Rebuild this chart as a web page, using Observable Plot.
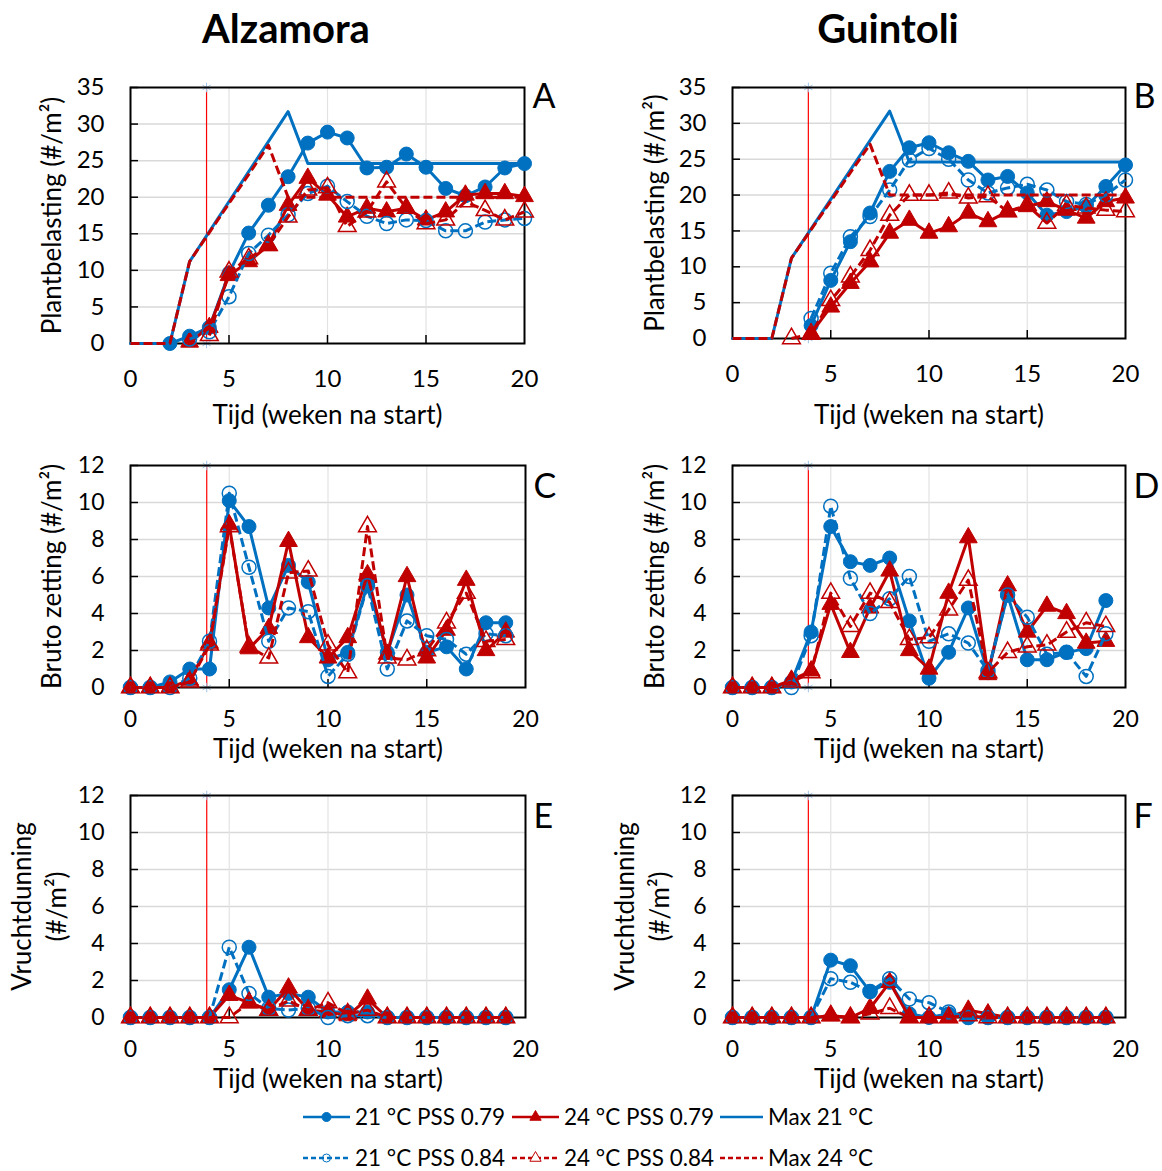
<!DOCTYPE html>
<html>
<head>
<meta charset="utf-8">
<script src="https://cdn.jsdelivr.net/npm/d3@7"></script>
<script src="https://cdn.jsdelivr.net/npm/@observablehq/plot@0.6"></script>
<style>
  body { margin: 0; background: #fff; font-family: Lato, "Open Sans", sans-serif; color: #000; }
  #chart { position: relative; width: 1162px; height: 1171px; overflow: hidden; }
  #chart svg { position: absolute; overflow: visible; }
  .title { position: absolute; top: 4px; font-weight: bold; font-size: 40px; line-height: 48px; transform: translateX(-50%); white-space: nowrap; }
  .legend-item { position: absolute; display: flex; align-items: center; font-size: 22.5px; line-height: 26px; white-space: nowrap; transform: translateY(-50%); }
  .legend-item svg { position: static !important; margin-right: 5px; }
</style>
</head>
<body>
<div id="chart"></div>
<script>
// ---- Weeks ----
const weeksTop = [2, 3, 4, 5, 6, 7, 8, 9, 10, 11, 12, 13, 14, 15, 16, 17, 18, 19, 20];
const weeksBottom = [0, 1, 2, 3, 4, 5, 6, 7, 8, 9, 10, 11, 12, 13, 14, 15, 16, 17, 18, 19];
const xTicks = [0, 5, 10, 15, 20];
const loadTicks = [0, 5, 10, 15, 20, 25, 30, 35];
const countTicks = [0, 2, 4, 6, 8, 10, 12];
const refWeek = 3.86; // start of the treatments

// ---- Maximum plant load lines ----
const maxWeeks21 = [0, 2, 3, 8, 9, 20];
const max21 = [0, 0, 11.2, 31.7, 24.6, 24.6];
const maxWeeks24 = [0, 2, 3, 7, 8, 20];
const max24 = [0, 0, 11.2, 27.1, 20.0, 20.0];

// ---- Plantbelasting, Alzamora (weeks 2-20) ----
const alzLoad21_079 = [0, 1.0, 2.2, 9.6, 15.1, 18.9, 22.8, 27.4, 28.9, 28.1, 24.0, 24.1, 25.9, 24.1, 21.2, 20.2, 21.4, 24.0, 24.6];
const alzLoad21_084 = [null, 0.6, 1.6, 6.4, 12.3, 14.8, 17.6, 20.5, 21.5, 19.4, 17.4, 16.4, 16.9, 16.8, 15.4, 15.4, 16.6, 16.9, 17.1];
const alzLoad24_079 = [null, 0.2, 2.2, 9.3, 11.2, 13.4, 18.9, 22.6, 20.3, 17.3, 18.5, 18.0, 18.5, 16.9, 18.0, 20.3, 20.5, 20.5, 20.1];
const alzLoad24_084 = [null, null, 1.1, 9.8, 11.6, 13.4, 17.3, 21.0, 21.3, 16.0, 18.0, 22.1, 18.5, 16.4, 16.9, 19.4, 18.2, 16.9, 18.0];

// ---- Plantbelasting, Guintoli (weeks 2-20) ----
const guiLoad21_079 = [null, null, 1.8, 8.1, 13.5, 17.5, 23.3, 26.6, 27.3, 25.9, 24.7, 22.1, 22.6, 20.3, 17.2, 17.7, 18.4, 21.2, 24.2];
const guiLoad21_084 = [null, null, 2.8, 9.1, 14.2, 17.0, 20.7, 24.9, 26.5, 25.0, 22.1, 20.3, 21.0, 21.5, 20.7, 19.1, 18.7, 20.0, 22.1];
const guiLoad24_079 = [null, null, 0.7, 4.4, 7.7, 10.7, 14.7, 16.5, 14.7, 15.6, 17.5, 16.3, 17.7, 18.4, 19.1, 17.9, 16.8, 19.1, 19.6];
const guiLoad24_084 = [null, 0, 0.6, 5.3, 8.6, 12.3, 17.2, 20.0, 20.0, 20.3, 19.6, 19.8, 17.7, 18.6, 16.1, 18.6, 18.2, 17.9, 17.7];

// ---- Bruto zetting (weeks 0-19) ----
const alzSet21_079 = [0, 0, 0.3, 1.0, 1.0, 10.1, 8.7, 4.3, 6.6, 5.7, 1.5, 1.9, 5.6, 1.9, 5.0, 1.9, 2.2, 1.0, 3.5, 3.5];
const alzSet21_084 = [0, 0, 0, 0.5, 2.5, 10.5, 6.5, 2.5, 4.3, 4.1, 0.6, 1.8, 5.5, 1.0, 3.6, 2.8, 2.6, 1.8, 2.9, 2.8];
const alzSet24_079 = [0, 0, 0, 0.4, 2.4, 8.8, 2.1, 3.2, 7.9, 2.7, 1.6, 2.7, 6.1, 1.8, 6.0, 1.6, 3.1, 5.8, 2.0, 3.0];
const alzSet24_084 = [0, 0, 0, 0.3, 2.3, 8.7, 2.2, 1.6, 6.2, 6.3, 2.3, 0.8, 8.7, 1.6, 1.5, 2.0, 3.5, 5.1, 2.5, 2.6];
const guiSet21_079 = [0, 0, 0, 0.3, 3.0, 8.7, 6.8, 6.6, 7.0, 3.6, 0.5, 1.9, 4.3, 0.8, 5.0, 1.5, 1.5, 1.9, 2.1, 4.7];
const guiSet21_084 = [0, 0, 0, 0, 2.8, 9.8, 5.9, 4.0, 4.8, 6.0, 2.5, 2.9, 2.4, 0.9, 5.0, 3.8, 1.8, 1.9, 0.6, 2.9];
const guiSet24_079 = [0, 0, 0, 0.4, 0.9, 4.5, 1.9, 4.3, 6.3, 2.0, 1.0, 5.1, 8.1, 0.7, 5.5, 3.0, 4.4, 4.0, 2.4, 2.5];
const guiSet24_084 = [0, 0, 0, 0.3, 0.8, 5.1, 3.3, 5.1, 4.6, 2.6, 2.7, 4.2, 5.8, 0.8, 1.9, 2.2, 2.3, 3.0, 3.5, 3.3];

// ---- Vruchtdunning (weeks 0-19) ----
const alzThin21_079 = [0, 0, 0, 0, 0, 1.5, 3.8, 1.1, 1.3, 1.1, 0.3, 0.3, 0.3, 0, 0, 0, 0, 0, 0, 0];
const alzThin21_084 = [0, 0, 0, 0, 0, 3.8, 1.3, 0.5, 0.4, 0.5, 0, 0.1, 0.1, 0, 0, 0, 0, 0, 0, 0];
const alzThin24_079 = [0, 0, 0, 0, 0, 1.2, 0.8, 0.4, 1.6, 0.4, 0.3, 0.1, 1.0, 0, 0, 0, 0, 0, 0, 0];
const alzThin24_084 = [0, 0, 0, 0, 0, 0, 0.8, 0.4, 0.9, 0.4, 0.8, 0.2, 0.4, 0, 0, 0, 0, 0, 0, 0];
const guiThin21_079 = [0, 0, 0, 0, 0, 3.1, 2.8, 1.4, 1.9, 0.2, 0, 0.2, 0, 0, 0, 0, 0, 0, 0, 0];
const guiThin21_084 = [0, 0, 0, 0, 0, 2.1, 1.9, 1.4, 2.1, 1.0, 0.8, 0.3, 0, 0, 0, 0, 0, 0, 0, 0];
const guiThin24_079 = [0, 0, 0, 0, 0, 0.1, 0, 0.5, 1.9, 0, 0, 0, 0.4, 0.2, 0, 0, 0, 0, 0, 0];
const guiThin24_084 = [0, 0, 0, 0, 0, 0.1, 0, 0.2, 0.5, 0, 0, 0, 0.1, 0, 0, 0, 0, 0, 0, 0];

// ---- Series styling (in drawing order) ----
const blue = "#0070c0", red = "#c00000";
const dashed = "9,4";
const seriesStyle = {
  "21 °C PSS 0.79": {color: blue, dash: null, symbol: "circle", filled: true},
  "24 °C PSS 0.79": {color: red, dash: null, symbol: "triangle", filled: true},
  "Max 21 °C": {color: blue, dash: null, symbol: null},
  "21 °C PSS 0.84": {color: blue, dash: dashed, symbol: "circle", filled: false},
  "24 °C PSS 0.84": {color: red, dash: dashed, symbol: "triangle", filled: false},
  "Max 24 °C": {color: red, dash: dashed, symbol: null}
};
const seriesOrder = Object.keys(seriesStyle);

function rows(weeks, values) {
  return weeks.map((w, i) => ({week: w, value: values[i]})).filter(d => d.value != null);
}

function seriesMarks(name, data) {
  const s = seriesStyle[name];
  const marks = [Plot.line(data, {
    x: "week", y: "value", stroke: s.color, strokeWidth: 3,
    strokeDasharray: s.dash || undefined,
    strokeLinecap: s.dash ? "butt" : "round", strokeLinejoin: "round"
  })];
  if (s.symbol) {
    marks.push(Plot.dot(data, {
      x: "week", y: "value", symbol: s.symbol,
      r: s.symbol === "circle" ? 7 : 6.6,
      fill: s.filled ? s.color : "none",
      stroke: s.color, strokeWidth: s.filled ? 1 : 1.5
    }));
  }
  return marks;
}

const titleFont = 26;  // axis titles

function panel(o) {
  const fw = o.width - o.ml - o.mr, fh = o.height - o.mt - o.mb;
  const inner = o.yTicks.filter(t => t > 0 && t < o.yMax);
  const marks = [
    Plot.ruleY(inner, {stroke: "#d9d9d9", strokeWidth: 1.5}),
    Plot.ruleX([5, 10, 15], {stroke: "#e3e3e3", strokeWidth: 1.2}),
    Plot.tickY(o.yTicks, {y: d => d, insetRight: fw - 8, stroke: "#000", strokeWidth: 1.5}),
    Plot.tickX([5, 10, 15], {x: d => d, insetTop: fh - 8, stroke: "#000", strokeWidth: 1.5}),
    Plot.ruleX([refWeek], {stroke: "#ff0000", strokeWidth: 1.2}),
    Plot.dot([0, o.yMax], {x: () => refWeek, y: d => d, symbol: "asterisk", r: 4.5, stroke: "#9dc3e6", strokeWidth: 1}),
    Plot.frame({stroke: "#000", strokeWidth: 2})
  ];
  for (const name of seriesOrder) {
    if (o.series[name]) marks.push(...seriesMarks(name, o.series[name]));
  }
  marks.push(
    Plot.axisY(o.yTicks, {tickSize: 0, tickPadding: 26, label: null, fontSize: o.tickFont}),
    Plot.axisX(xTicks, {tickSize: 0, tickPadding: o.xPad, label: null, fontSize: o.tickFont}),
    Plot.text([o.letter], {text: d => d, frameAnchor: "top-right", dx: 8, dy: o.letterDy, textAnchor: "start", lineAnchor: "middle", fontSize: 34}),
    Plot.text(["Tijd (weken na start)"], {text: d => d, frameAnchor: "bottom", dy: o.xLabelDy, textAnchor: "middle", lineAnchor: "middle", fontSize: titleFont}),
    ...o.yLabels.map(([txt, dx]) => Plot.text([txt], {text: d => d, frameAnchor: "left", dx, rotate: -90, textAnchor: "middle", lineAnchor: "middle", fontSize: titleFont}))
  );
  const svg = Plot.plot({
    width: o.width, height: o.height,
    marginTop: o.mt, marginRight: o.mr, marginBottom: o.mb, marginLeft: o.ml,
    x: {domain: [0, 20], label: null},
    y: {domain: [0, o.yMax], label: null},
    style: {fontFamily: "Lato, 'Open Sans', sans-serif", fontSize: o.tickFont + "px", color: "#000", background: "transparent", overflow: "visible"},
    marks
  });
  svg.style.left = o.left + "px";
  svg.style.top = o.top + "px";
  return svg;
}

const maxSeries = {
  "Max 21 °C": rows(maxWeeks21, max21),
  "Max 24 °C": rows(maxWeeks24, max24)
};

const chart = document.getElementById("chart");

const topRow = {width: 581, height: 380, top: 60, mt: 27, yMax: 35, yTicks: loadTicks, letterDy: 10, xPad: 26, tickFont: 24};
const lowRow = {width: 581, height: 330, mt: 25, mb: 83, yMax: 12, yTicks: countTicks, letterDy: 22, xLabelDy: 62, xPad: 23, tickFont: 23};
const leftCol = {left: 0, ml: 130};
const rightCol = {left: 581, ml: 151, mr: 37};

chart.appendChild(panel({
  ...topRow, ...leftCol, mr: 57, mb: 97, letter: "A", xLabelDy: 72,
  yLabels: [["Plantbelasting (#/m²)", -78]],
  series: {
    "21 °C PSS 0.79": rows(weeksTop, alzLoad21_079),
    "24 °C PSS 0.79": rows(weeksTop, alzLoad24_079),
    "21 °C PSS 0.84": rows(weeksTop, alzLoad21_084),
    "24 °C PSS 0.84": rows(weeksTop, alzLoad24_084),
    ...maxSeries
  }
}));

chart.appendChild(panel({
  ...topRow, ...rightCol, mb: 102, letter: "B", xLabelDy: 77,
  yLabels: [["Plantbelasting (#/m²)", -77]],
  series: {
    "21 °C PSS 0.79": rows(weeksTop, guiLoad21_079),
    "24 °C PSS 0.79": rows(weeksTop, guiLoad24_079),
    "21 °C PSS 0.84": rows(weeksTop, guiLoad21_084),
    "24 °C PSS 0.84": rows(weeksTop, guiLoad24_084),
    ...maxSeries
  }
}));

chart.appendChild(panel({
  ...lowRow, ...leftCol, top: 440, mr: 56, letter: "C",
  yLabels: [["Bruto zetting (#/m²)", -78]],
  series: {
    "21 °C PSS 0.79": rows(weeksBottom, alzSet21_079),
    "24 °C PSS 0.79": rows(weeksBottom, alzSet24_079),
    "21 °C PSS 0.84": rows(weeksBottom, alzSet21_084),
    "24 °C PSS 0.84": rows(weeksBottom, alzSet24_084)
  }
}));

chart.appendChild(panel({
  ...lowRow, ...rightCol, top: 440, letter: "D",
  yLabels: [["Bruto zetting (#/m²)", -77]],
  series: {
    "21 °C PSS 0.79": rows(weeksBottom, guiSet21_079),
    "24 °C PSS 0.79": rows(weeksBottom, guiSet24_079),
    "21 °C PSS 0.84": rows(weeksBottom, guiSet21_084),
    "24 °C PSS 0.84": rows(weeksBottom, guiSet24_084)
  }
}));

chart.appendChild(panel({
  ...lowRow, ...leftCol, top: 770, mr: 56, letter: "E",
  yLabels: [["Vruchtdunning", -108], ["(#/m²)", -73]],
  series: {
    "21 °C PSS 0.79": rows(weeksBottom, alzThin21_079),
    "24 °C PSS 0.79": rows(weeksBottom, alzThin24_079),
    "21 °C PSS 0.84": rows(weeksBottom, alzThin21_084),
    "24 °C PSS 0.84": rows(weeksBottom, alzThin24_084)
  }
}));

chart.appendChild(panel({
  ...lowRow, ...rightCol, top: 770, letter: "F",
  yLabels: [["Vruchtdunning", -107], ["(#/m²)", -72]],
  series: {
    "21 °C PSS 0.79": rows(weeksBottom, guiThin21_079),
    "24 °C PSS 0.79": rows(weeksBottom, guiThin24_079),
    "21 °C PSS 0.84": rows(weeksBottom, guiThin21_084),
    "24 °C PSS 0.84": rows(weeksBottom, guiThin24_084)
  }
}));

// ---- Column titles ----
for (const [name, cx] of [["Alzamora", 286], ["Guintoli", 888]]) {
  const t = document.createElement("div");
  t.className = "title";
  t.style.left = cx + "px";
  t.textContent = name;
  chart.appendChild(t);
}

// ---- Legend (two rows, three columns) ----
const legendSlots = [[303, 1117], [512, 1117], [720, 1117], [303, 1158], [512, 1158], [720, 1158]];
const legendOrder = ["21 °C PSS 0.79", "24 °C PSS 0.79", "Max 21 °C", "21 °C PSS 0.84", "24 °C PSS 0.84", "Max 24 °C"];
legendOrder.forEach((name, i) => {
  const s = seriesStyle[name];
  const [lx, ly] = legendSlots[i];
  const item = document.createElement("div");
  item.className = "legend-item";
  item.style.left = lx + "px";
  item.style.top = ly + "px";
  const sw = s.symbol ? 47 : 43;
  const svg = d3.create("svg").attr("width", sw).attr("height", 20);
  svg.append("line").attr("x1", 0).attr("x2", sw).attr("y1", 10).attr("y2", 10)
    .attr("stroke", s.color).attr("stroke-width", 2.5)
    .attr("stroke-dasharray", s.dash ? "5,3" : null);
  if (s.symbol === "circle") {
    svg.append("circle").attr("cx", sw / 2).attr("cy", 10).attr("r", s.filled ? 4.5 : 4)
      .attr("fill", s.filled ? s.color : "none").attr("stroke", s.color).attr("stroke-width", 1);
  } else if (s.symbol === "triangle") {
    svg.append("path").attr("transform", `translate(${sw / 2},10)`)
      .attr("d", d3.symbol(d3.symbolTriangle, 55)())
      .attr("fill", s.filled ? s.color : "#fff").attr("stroke", s.color).attr("stroke-width", 1);
  }
  item.appendChild(svg.node());
  const label = document.createElement("span");
  label.textContent = name;
  item.appendChild(label);
  chart.appendChild(item);
});
</script>
</body>
</html>
